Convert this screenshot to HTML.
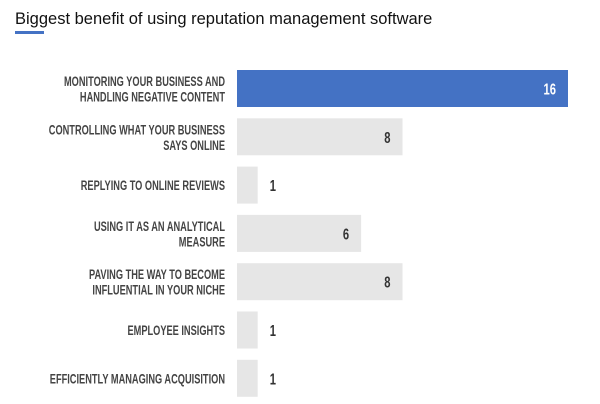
<!DOCTYPE html>
<html><head><meta charset="utf-8"><style>
html,body{margin:0;padding:0;background:#fff;}
svg{display:block;}
</style></head><body>
<svg id="chart" width="600" height="404" viewBox="0 0 600 404" xmlns="http://www.w3.org/2000/svg">
<text x="15" y="24" font-family="Liberation Sans, sans-serif" font-size="16.5" fill="#111">Biggest benefit of using reputation management software</text>
<rect x="15" y="31" width="29" height="3" fill="#4472c4"/>
<g id="bars"></g>
</svg>
<script>
const categories = [
  ["MONITORING YOUR BUSINESS AND","HANDLING NEGATIVE CONTENT"],
  ["CONTROLLING WHAT YOUR BUSINESS","SAYS ONLINE"],
  ["REPLYING TO ONLINE REVIEWS"],
  ["USING IT AS AN ANALYTICAL","MEASURE"],
  ["PAVING THE WAY TO BECOME","INFLUENTIAL IN YOUR NICHE"],
  ["EMPLOYEE INSIGHTS"],
  ["EFFICIENTLY MANAGING ACQUISITION"]
];
const values = [16, 8, 1, 6, 8, 1, 1];
const highlightIndex = 0;

const NS = "http://www.w3.org/2000/svg";
const g = document.getElementById("bars");
const x0 = 237, maxV = 16, plotW = 331;
const xScale = v => v / maxV * plotW;
const yTop = i => 70 + i * 48.3;
const barH = 37;
function txt(x, y, s, size, fill, anchor, sx) {
  const grp = document.createElementNS(NS, "g");
  grp.setAttribute("transform", `translate(${x},${y}) scale(${sx},1)`);
  const t = document.createElementNS(NS, "text");
  t.setAttribute("font-family", "Liberation Sans, sans-serif");
  t.setAttribute("font-weight", "bold");
  t.setAttribute("font-size", size);
  t.setAttribute("fill", fill);
  t.setAttribute("text-anchor", anchor);
  t.textContent = s;
  grp.appendChild(t);
  return [grp, t];
}
values.forEach((v, i) => {
  const y = yTop(i), w = xScale(v), cy = y + barH / 2;
  const r = document.createElementNS(NS, "rect");
  r.setAttribute("x", x0); r.setAttribute("y", y);
  r.setAttribute("width", w); r.setAttribute("height", barH);
  r.setAttribute("fill", i === highlightIndex ? "#4472c4" : "#e6e6e6");
  
  
  g.appendChild(r);
  const lines = categories[i];
  lines.forEach((ln, k) => {
    const by = lines.length === 2 ? cy - 2.5 + k * 15.5 : cy + 5;
    const [grp, t] = txt(225, by, ln, 14, "#444", "end", 0.66);
    
    
    g.appendChild(grp);
  });
  const inside = w > 60;
  const vx = inside ? x0 + w - 12 : x0 + w + 12;
  const [vg, vt] = txt(vx, cy + 6, String(v), 16, i === highlightIndex ? "#fff" : "#333", inside ? "end" : "start", 0.7);
  
  
  g.appendChild(vg);
});
</script>
</body></html>
